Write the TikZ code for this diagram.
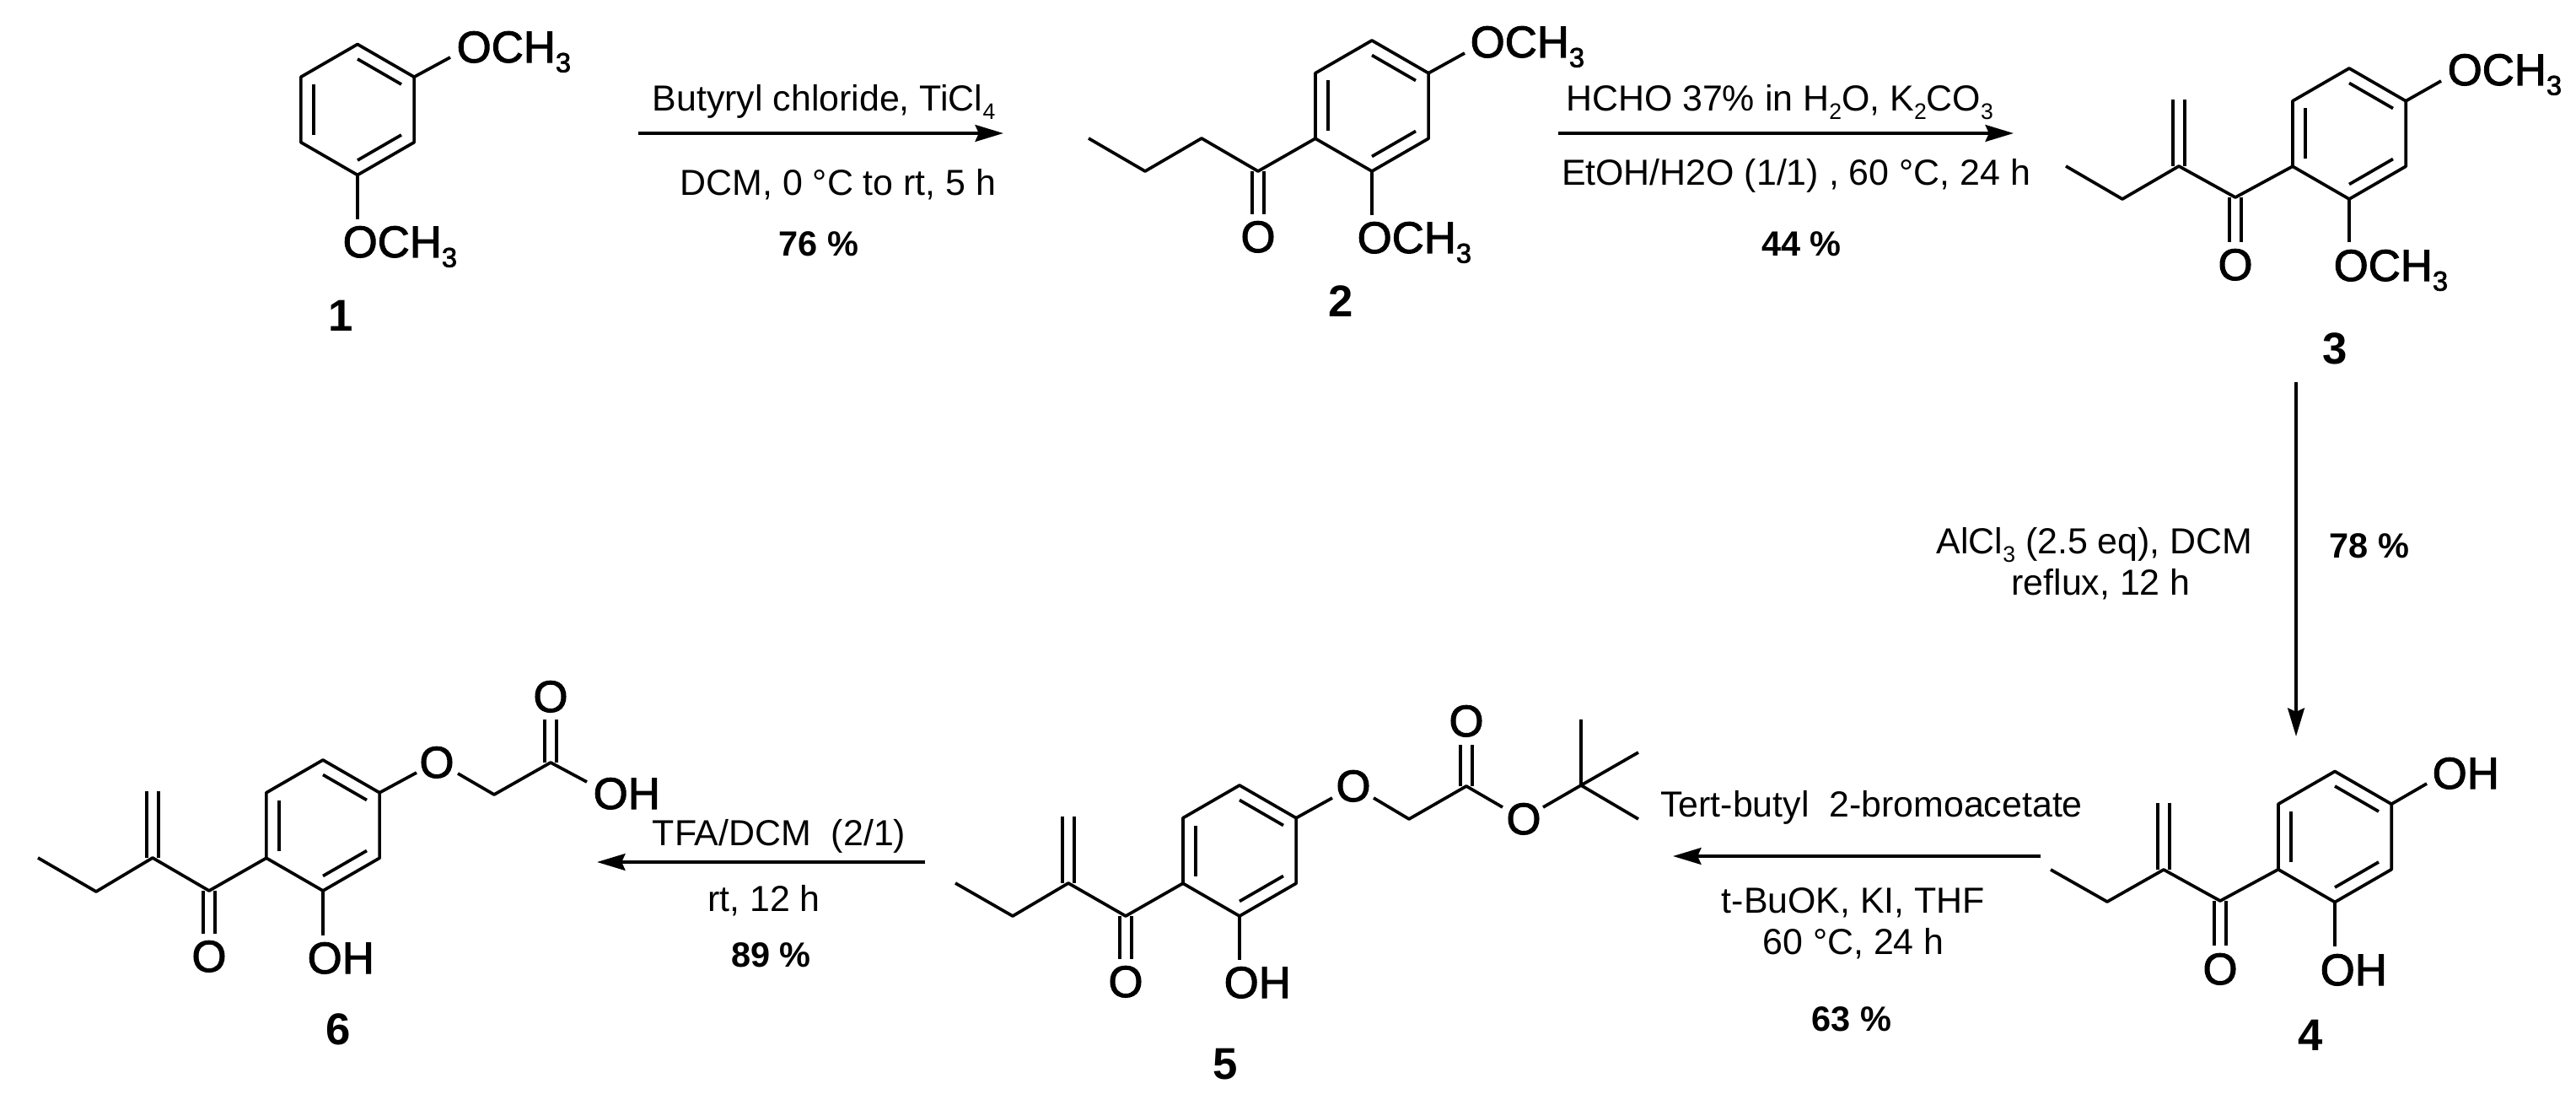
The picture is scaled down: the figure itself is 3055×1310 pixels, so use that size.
\documentclass[tikz,border=0pt]{standalone}
\usepackage{fontspec}
\setmainfont{Liberation Sans}
\newfontfamily\atomfont[FakeBold=2]{Liberation Sans}
\usetikzlibrary{arrows.meta,calc}
\tikzstyle{bond} = [line width=1.05pt, line join=round]
\tikzstyle{atom} = [inner sep=0pt, font=\fontsize{15}{15}\atomfont, anchor=base]
\tikzstyle{atomw} = [atom, anchor=base west]
\tikzstyle{cond} = [inner sep=0pt, font=\fontsize{12.2}{13}\selectfont, anchor=base]
\tikzstyle{yield} = [inner sep=0pt, font=\fontsize{11.8}{12}\selectfont\bfseries, anchor=base]
\tikzstyle{cpd} = [inner sep=0pt, font=\fontsize{15}{15}\selectfont\bfseries, anchor=base]
\tikzstyle{rxn} = [line width=1.15pt, -{Stealth[length=9.5pt,width=5.6pt,inset=1.2pt]}]
\newcommand{\sbs}[1]{\raisebox{-0.22em}{\scalebox{.62}{#1}}}
% ring: centre x, centre y, prefix of its corners
\newcommand{\arring}[3]{
	\foreach \a/\n in {-90/a,-30/b,30/c,90/d,150/e,-150/f}{
		\coordinate (#3\n) at ($(#1,#2)+(\a:77.5)$);
		\coordinate (#3i\n) at ($(#1,#2)+(\a:60)$);
	}
	\draw[bond] (#3a)--(#3b)--(#3c)--(#3d)--(#3e)--(#3f)--cycle;
	\draw[bond] (#3ia)--(#3ib);
	\draw[bond] (#3ic)--(#3id);
	\draw[bond] (#3ie)--(#3if);
}
% vertical double bond
\newcommand{\dbl}[2]{
	\draw[bond] ($(#1)+(-7,0)$)--($(#2)+(-7,0)$);
	\draw[bond] ($(#1)+(7,0)$)--($(#2)+(7,0)$);
}
\begin{document}
\begin{tikzpicture}[x=0.01cm,y=-0.01cm]
	\useasboundingbox (0,0) rectangle (3055,1310);
	% compound 1
	\arring{424}{130}{p}
	\coordinate (p1) at (534,68);
	\coordinate (p2) at (424,260);
	\draw[bond] (pb)--(p1);
	\draw[bond] (pd)--(p2);
	\node[atomw] (och1a) at (541,74) {OCH\sbs{3}};
	\node[atomw] (och1b) at (406,305) {OCH\sbs{3}};
	\node[cpd] (cpd1) at (404,393) {1};
	% compound 2
	\arring{1627}{125.5}{q}
	\coordinate (q1) at (1737,63);
	\coordinate (q2) at (1627,255);
	\coordinate (qk) at (1492,203);
	\coordinate (qo) at (1492,254);
	\coordinate (qm) at (1425,164);
	\coordinate (qn) at (1358,203);
	\coordinate (qt) at (1291,164);
	\draw[bond] (qb)--(q1);
	\draw[bond] (qd)--(q2);
	\draw[bond] (qe)--(qk)--(qm)--(qn)--(qt);
	\dbl{qk}{qo}
	\node[atom] (o2) at (1492,299) {O};
	\node[atomw] (och2a) at (1743,68) {OCH\sbs{3}};
	\node[atomw] (och2b) at (1609,300) {OCH\sbs{3}};
	\node[cpd] (cpd2) at (1590,376) {2};
	% compound 3
	\arring{2786}{158.5}{r}
	\coordinate (r1) at (2895,96);
	\coordinate (r2) at (2786,287);
	\coordinate (rk) at (2651,234);
	\coordinate (ro) at (2651,287);
	\coordinate (rm) at (2584,197);
	\coordinate (rw) at (2584,118);
	\coordinate (rn) at (2517,236);
	\coordinate (rt) at (2450,197);
	\draw[bond] (rb)--(r1);
	\draw[bond] (rd)--(r2);
	\draw[bond] (re)--(rk)--(rm)--(rn)--(rt);
	\dbl{rk}{ro}
	\dbl{rm}{rw}
	\node[atom] (o3) at (2651,332) {O};
	\node[atomw] (och3a) at (2902,101) {OCH\sbs{3}};
	\node[atomw] (och3b) at (2767,333) {OCH\sbs{3}};
	\node[cpd] (cpd3) at (2769,432) {3};
	% compound 4
	\arring{2769}{992}{s}
	\coordinate (s1) at (2878,929);
	\coordinate (s2) at (2769,1122);
	\coordinate (sk) at (2633,1068);
	\coordinate (so) at (2633,1121);
	\coordinate (sm) at (2566,1031);
	\coordinate (sw) at (2566,952);
	\coordinate (sn) at (2499,1069);
	\coordinate (st) at (2432,1031);
	\draw[bond] (sb)--(s1);
	\draw[bond] (sd)--(s2);
	\draw[bond] (se)--(sk)--(sm)--(sn)--(st);
	\dbl{sk}{so}
	\dbl{sm}{sw}
	\node[atom] (o4) at (2633,1167) {O};
	\node[atomw] (oh4a) at (2884,935) {OH};
	\node[atomw] (oh4b) at (2751,1168) {OH};
	\node[cpd] (cpd4) at (2740,1245) {4};
	% compound 5
	\arring{1470}{1008.5}{u}
	\coordinate (u1) at (1580,946);
	\coordinate (u2) at (1470,1138);
	\coordinate (u3) at (1629,946);
	\coordinate (uh) at (1671,971);
	\coordinate (ug) at (1739,932);
	\coordinate (uj) at (1739,883);
	\coordinate (u4) at (1782,957);
	\coordinate (u5) at (1830,957);
	\coordinate (uq) at (1875,931);
	\coordinate (ux) at (1875,853);
	\coordinate (uy) at (1943,892);
	\coordinate (uz) at (1943,971);
	\coordinate (uk) at (1335,1086);
	\coordinate (uo) at (1335,1137);
	\coordinate (um) at (1267,1047);
	\coordinate (uw) at (1267,968);
	\coordinate (un) at (1201,1086);
	\coordinate (ut) at (1133,1047);
	\draw[bond] (ub)--(u1);
	\draw[bond] (ud)--(u2);
	\draw[bond] (u3)--(uh)--(ug)--(u4);
	\draw[bond] (u5)--(uq)--(ux);
	\draw[bond] (uy)--(uq)--(uz);
	\draw[bond] (ue)--(uk)--(um)--(un)--(ut);
	\dbl{ug}{uj}
	\dbl{uk}{uo}
	\dbl{um}{uw}
	\node[atom] (o5a) at (1605,950) {O};
	\node[atom] (o5b) at (1739,873) {O};
	\node[atom] (o5c) at (1807,989) {O};
	\node[atom] (o5d) at (1335,1182) {O};
	\node[atomw] (oh5) at (1451,1183) {OH};
	\node[cpd] (cpd5) at (1453,1279) {5};
	% compound 6
	\arring{383}{978.5}{v}
	\coordinate (v1) at (494,916);
	\coordinate (v2) at (383,1109);
	\coordinate (v3) at (543,917);
	\coordinate (vh) at (586,942);
	\coordinate (vg) at (653,904);
	\coordinate (vj) at (653,853);
	\coordinate (v4) at (696,927);
	\coordinate (vk) at (248,1056);
	\coordinate (vo) at (248,1107);
	\coordinate (vm) at (181,1017);
	\coordinate (vw) at (181,938);
	\coordinate (vn) at (114,1057);
	\coordinate (vt) at (45,1017);
	\draw[bond] (vb)--(v1);
	\draw[bond] (vd)--(v2);
	\draw[bond] (v3)--(vh)--(vg)--(v4);
	\draw[bond] (ve)--(vk)--(vm)--(vn)--(vt);
	\dbl{vg}{vj}
	\dbl{vk}{vo}
	\dbl{vm}{vw}
	\node[atom] (o6a) at (518,922) {O};
	\node[atom] (o6b) at (653,844) {O};
	\node[atom] (o6c) at (248,1152) {O};
	\node[atomw] (oh6a) at (703,959) {OH};
	\node[atomw] (oh6b) at (364,1154) {OH};
	\node[cpd] (cpd6) at (401,1238) {6};
	% arrows
	\coordinate (a1s) at (757,158);
	\coordinate (a1e) at (1190,158);
	\coordinate (a2s) at (1848,158);
	\coordinate (a2e) at (2388,158);
	\coordinate (a3s) at (2723,453);
	\coordinate (a3e) at (2723,873);
	\coordinate (a4s) at (2420,1015);
	\coordinate (a4e) at (1984,1015);
	\coordinate (a5s) at (1097,1022);
	\coordinate (a5e) at (708,1022);
	\draw[rxn] (a1s)--(a1e);
	\draw[rxn] (a2s)--(a2e);
	\draw[rxn] (a3s)--(a3e);
	\draw[rxn] (a4s)--(a4e);
	\draw[rxn] (a5s)--(a5e);
	% conditions
	\node[cond] (t1a) at (977,132) {Butyryl chloride, TiCl\sbs{4}};
	\node[cond] (t1b) at (994,232) {DCM, 0 °C to rt, 5 h};
	\node[yield] (y1) at (971,304) {76 \%};
	\node[cond] (t2a) at (2110.5,132) {HCHO 37\% in H\sbs{2}O, K\sbs{2}CO\sbs{3}};
	\node[cond] (t2b) at (2130,220) {EtOH/H2O (1/1) , 60 °C, 24 h};
	\node[yield] (y2) at (2136.5,304) {44 \%};
	\node[cond] (t3a) at (2484,657) {AlCl\sbs{3} (2.5 eq), DCM};
	\node[cond] (t3b) at (2491.5,706) {reflux, 12 h};
	\node[yield] (y3) at (2810,662) {78 \%};
	\node[cond] (t4a) at (2219.5,968) {Tert-butyl\ \ 2-bromoacetate};
	\node[cond] (t4b) at (2198,1082) {t-BuOK, KI, THF};
	\node[cond] (t4c) at (2198,1131) {60 °C, 24 h};
	\node[yield] (y4) at (2196,1222) {63 \%};
	\node[cond] (t5a) at (924,1002) {TFA/DCM\ \ (2/1)};
	\node[cond] (t5b) at (906,1080) {rt, 12 h};
	\node[yield] (y5) at (914.5,1146) {89 \%};
\end{tikzpicture}
\end{document}
